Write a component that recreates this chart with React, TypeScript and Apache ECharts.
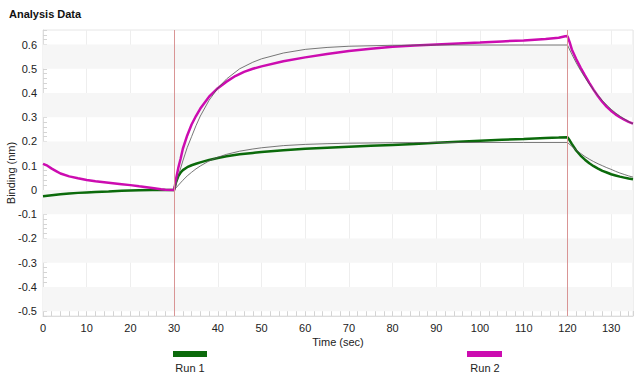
import React, { useEffect, useRef } from "react";
import * as echarts from "echarts";

// Run 1 (green) measured response
const run1Times = [0, 2, 4, 6, 8, 10, 12, 15, 18, 20, 22, 25, 30,
  30.5, 31, 31.5, 32, 33, 34, 35, 36, 38, 40, 42, 45, 48, 50, 55, 60, 65, 70, 75, 80, 85, 90, 95, 100, 105, 110, 115, 118, 120,
  120.5, 121, 122, 123, 124, 125, 126, 127, 128, 129, 130, 131, 132, 133, 134, 135];
const run1Values = [-0.026, -0.022, -0.018, -0.015, -0.012, -0.01, -0.008, -0.006, -0.003, -0.002, -0.001, 0, 0,
  0.035, 0.058, 0.072, 0.082, 0.094, 0.102, 0.108, 0.114, 0.124, 0.132, 0.139, 0.147, 0.153, 0.157, 0.164, 0.17, 0.174, 0.178, 0.182, 0.186, 0.19, 0.195, 0.199, 0.203, 0.207, 0.21, 0.214, 0.216, 0.218,
  0.205, 0.19, 0.163, 0.142, 0.125, 0.11, 0.098, 0.088, 0.079, 0.072, 0.065, 0.06, 0.055, 0.051, 0.047, 0.044];

// Run 2 (magenta) measured response
const run2Times = [0, 1, 2, 3, 4, 6, 8, 10, 12, 15, 18, 20, 22, 25, 27, 28, 30,
  30.5, 31, 31.5, 32, 33, 34, 35, 36, 38, 40, 42, 44, 46, 48, 50, 55, 60, 65, 70, 75, 80, 85, 90, 95, 100, 105, 110, 115, 118, 119.5, 120,
  120.5, 121, 122, 123, 124, 125, 126, 127, 128, 129, 130, 131, 132, 133, 134, 135];
const run2Values = [0.108, 0.1, 0.088, 0.078, 0.068, 0.056, 0.048, 0.041, 0.036, 0.03, 0.024, 0.02, 0.015, 0.008, 0.003, 0.001, 0,
  0.05, 0.095, 0.13, 0.17, 0.225, 0.27, 0.305, 0.336, 0.385, 0.42, 0.447, 0.47, 0.487, 0.5, 0.51, 0.531, 0.547, 0.561, 0.573, 0.583, 0.591, 0.596, 0.6, 0.604, 0.608, 0.613, 0.617, 0.623, 0.628, 0.634, 0.635,
  0.61, 0.58, 0.54, 0.505, 0.473, 0.442, 0.413, 0.387, 0.363, 0.343, 0.326, 0.312, 0.3, 0.29, 0.281, 0.274];

// Fitted curves
const fitTimes = [30, 31, 32, 33, 34, 35, 36, 38, 40, 42, 45, 48, 50, 55, 60, 65, 70, 80, 90, 100, 110, 120,
  121, 122, 123, 124, 125, 126, 127, 128, 129, 130, 131, 132, 133, 134, 135];
const fit1Values = [0, 0.02, 0.04, 0.058, 0.073, 0.087, 0.099, 0.12, 0.135, 0.147, 0.16, 0.169, 0.174, 0.183, 0.188, 0.191, 0.193, 0.195, 0.196, 0.196, 0.196, 0.196,
  0.18, 0.165, 0.151, 0.138, 0.127, 0.117, 0.108, 0.1, 0.092, 0.085, 0.077, 0.07, 0.064, 0.058, 0.053];
const fit2Values = [0, 0.06, 0.12, 0.175, 0.22, 0.265, 0.305, 0.37, 0.42, 0.458, 0.5, 0.527, 0.541, 0.565, 0.58, 0.588, 0.593, 0.597, 0.598, 0.598, 0.598, 0.598,
  0.56, 0.525, 0.493, 0.464, 0.437, 0.412, 0.39, 0.369, 0.35, 0.333, 0.318, 0.305, 0.293, 0.282, 0.273];

// Phase boundaries (sec)
const phaseMarks = [30, 120];
// Shaded y bands (start values, each 0.1 tall)
const bandStarts = [-0.5, -0.3, -0.1, 0.1, 0.3, 0.5];

const runNames = ["Run 1", "Run 2"];
const runColors = ["#0b6a0b", "#cc0cb0"];

const zip = (t: number[], v: number[]) => t.map((x, i) => [x, v[i]]);

export default function App() {
  const ref = useRef<HTMLDivElement>(null);
  useEffect(() => {
    document.body.style.margin = "0";
    if (!ref.current) return;
    const chart = echarts.init(ref.current, undefined, { renderer: "svg" });
    const font = "Liberation Sans, Arial, sans-serif";
    const markColor = "#d99595";
    chart.setOption({
      animation: false,
      backgroundColor: "#ffffff",
      title: {
        text: "Analysis Data",
        left: 4,
        top: 3,
        textStyle: { fontSize: 11, fontWeight: "bold", color: "#111", fontFamily: font },
      },
      grid: {
        left: 43, right: 7, top: 30, bottom: 61,
        containLabel: false, outerBoundsMode: "none",
        show: true, borderColor: "#e6e6e6", borderWidth: 1,
      },
      xAxis: {
        type: "value",
        min: 0,
        max: 135,
        interval: 10,
        name: "Time (sec)",
        nameLocation: "middle",
        nameGap: 20,
        nameMoveOverlap: false,
        nameTextStyle: { fontSize: 11, color: "#222", fontFamily: font },
        axisLine: { show: true, onZero: false, lineStyle: { color: "#dcdcdc" } },
        axisTick: { show: true, inside: true, length: 5, lineStyle: { color: "#d4d4d4" } },
        minorTick: { show: true, splitNumber: 5, length: 5, lineStyle: { color: "#d4d4d4" } },
        axisLabel: { fontSize: 11, color: "#222", fontFamily: font, margin: 6, showMaxLabel: false },
        splitLine: { show: true, lineStyle: { color: "#eeeeee", width: 1 } },
      },
      yAxis: {
        type: "value",
        min: -0.52,
        max: 0.66,
        interval: 0.02,
        name: "Binding (nm)",
        nameLocation: "middle",
        nameGap: 27,
        nameMoveOverlap: false,
        nameTextStyle: { fontSize: 11, color: "#222", fontFamily: font },
        axisLine: { show: true, lineStyle: { color: "#dcdcdc" } },
        axisTick: { show: true, inside: true, length: 4, lineStyle: { color: "#d4d4d4" } },
        axisLabel: {
          fontSize: 11,
          color: "#222",
          fontFamily: font,
          margin: 6,
          formatter: (v: number) => {
            const r = Math.round(v * 10);
            if (Math.abs(v * 10 - r) > 1e-6) return "";
            return String(r / 10);
          },
        },
        splitLine: { show: false },
      },
      series: [
        {
          type: "line",
          name: "bands",
          data: [],
          silent: true,
          color: markColor,
          markArea: {
            silent: true,
            itemStyle: { color: "#f6f6f6" },
            data: bandStarts.map((b) => [{ yAxis: b }, { yAxis: Math.round((b + 0.1) * 10) / 10 }]),
          },
          markLine: {
            silent: true,
            symbol: "none",
            label: { show: false },
            itemStyle: { color: markColor },
            lineStyle: { color: markColor, width: 1, type: "solid", opacity: 1 },
            data: phaseMarks.map((m) => ({ xAxis: m, itemStyle: { color: markColor }, lineStyle: { color: markColor, type: "solid" } })),
          },
        },
        {
          type: "line",
          name: runNames[0],
          data: zip(run1Times, run1Values),
          showSymbol: false,
          smooth: false,
          lineStyle: { color: runColors[0], width: 2.5 },
          itemStyle: { color: runColors[0] },
          z: 3,
        },
        {
          type: "line",
          name: runNames[1],
          data: zip(run2Times, run2Values),
          showSymbol: false,
          lineStyle: { color: runColors[1], width: 2.5 },
          itemStyle: { color: runColors[1] },
          z: 3,
        },
        {
          type: "line",
          name: "fit1",
          data: zip(fitTimes, fit1Values),
          showSymbol: false,
          lineStyle: { color: "#555555", width: 0.8 },
          z: 4,
        },
        {
          type: "line",
          name: "fit2",
          data: zip(fitTimes, fit2Values),
          showSymbol: false,
          lineStyle: { color: "#555555", width: 0.8 },
          z: 4,
        },
      ],
      graphic: [
        { type: "rect", shape: { x: 173, y: 351, width: 34, height: 6 }, style: { fill: runColors[0] } },
        {
          type: "text",
          x: 190,
          y: 368,
          style: { text: runNames[0], fill: "#222", font: "11px Liberation Sans, Arial, sans-serif", align: "center", verticalAlign: "middle" },
        },
        { type: "rect", shape: { x: 467, y: 351, width: 35, height: 6 }, style: { fill: runColors[1] } },
        {
          type: "text",
          x: 485,
          y: 368,
          style: { text: runNames[1], fill: "#222", font: "11px Liberation Sans, Arial, sans-serif", align: "center", verticalAlign: "middle" },
        },
      ],
    });
    return () => chart.dispose();
  }, []);
  return <div ref={ref} style={{ width: 640, height: 377 }} />;
}
